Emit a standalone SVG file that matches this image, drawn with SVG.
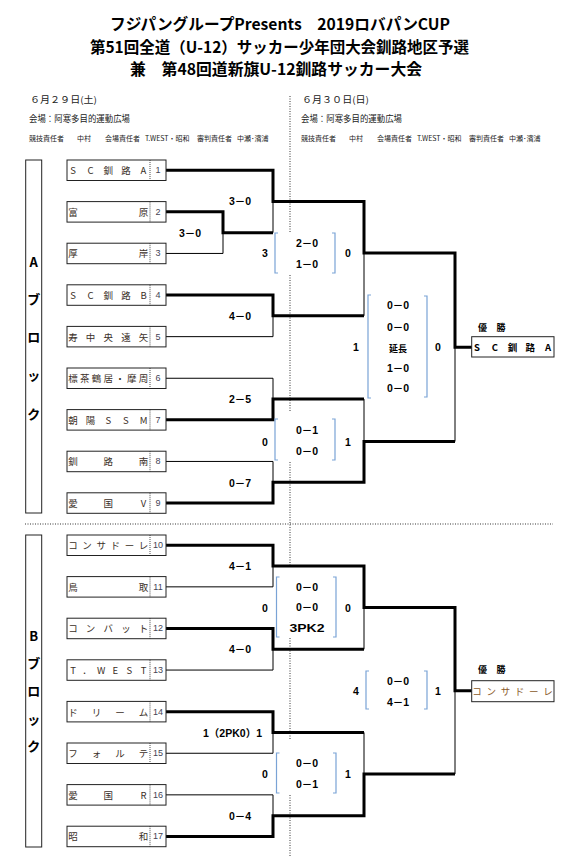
<svg xmlns="http://www.w3.org/2000/svg" width="574" height="862" viewBox="0 0 574 862">
<style>
text{font-family:"Noto Sans CJK JP","Liberation Sans",sans-serif}
.hd{font-size:15.5px;font-weight:bold;fill:#000;dominant-baseline:central}
.sub{font-size:9px;fill:#222;dominant-baseline:central}
.off{font-size:7px;fill:#222;dominant-baseline:central}
.nm{font-size:9.5px;fill:#3b3028;text-anchor:middle;dominant-baseline:central}
.no{font-family:"Liberation Sans",sans-serif;font-size:9px;fill:#445;text-anchor:middle;dominant-baseline:central}
.sc{font-family:"Liberation Sans","Noto Sans CJK JP",sans-serif;font-size:10.5px;font-weight:bold;fill:#000;text-anchor:middle;dominant-baseline:central}
.jp{font-size:9px;font-weight:bold;fill:#000;text-anchor:middle;dominant-baseline:central}
.blk{font-size:13px;font-weight:bold;fill:#000;text-anchor:middle;dominant-baseline:central}
.box{fill:#fff;stroke:#222;stroke-width:1}
.div{stroke:#222;stroke-width:0.8;stroke-dasharray:1 1}
.thick{fill:none;stroke:#000;stroke-width:3}
.thin{fill:none;stroke:#000;stroke-width:1}
.br{fill:none;stroke:#7aa3d6;stroke-width:1.2}
.dot{fill:none;stroke:#000;stroke-width:0.8;stroke-dasharray:1 1.5}
</style>

<g id="header">
<text class="hd" x="110" y="22.5" textLength="340" lengthAdjust="spacingAndGlyphs">フジパングループPresents　2019ロバパンCUP</text>
<text class="hd" x="90" y="45.5" textLength="379" lengthAdjust="spacingAndGlyphs">第51回全道（U-12）サッカー少年団大会釧路地区予選</text>
<text class="hd" x="130" y="68" textLength="292" lengthAdjust="spacingAndGlyphs">兼　第48回道新旗U-12釧路サッカー大会</text>
<text class="sub" x="30" y="99" textLength="67" lengthAdjust="spacingAndGlyphs">６月２９日(土)</text>
<text class="sub" x="29" y="118" textLength="101" lengthAdjust="spacingAndGlyphs">会場：阿寒多目的運動広場</text>
<text class="off" y="138"><tspan x="29">競技責任者</tspan><tspan x="77">中村</tspan><tspan x="105">会場責任者</tspan><tspan x="145">T.WEST・昭和</tspan><tspan x="197">審判責任者</tspan><tspan x="237">中瀬･濱浦</tspan></text>
<text class="sub" x="302" y="99" textLength="67" lengthAdjust="spacingAndGlyphs">６月３０日(日)</text>
<text class="sub" x="301" y="118" textLength="101" lengthAdjust="spacingAndGlyphs">会場：阿寒多目的運動広場</text>
<text class="off" y="138"><tspan x="301">競技責任者</tspan><tspan x="349">中村</tspan><tspan x="377">会場責任者</tspan><tspan x="417">T.WEST・昭和</tspan><tspan x="469">審判責任者</tspan><tspan x="509">中瀬･濱浦</tspan></text>
</g>

<g id="separators">
<path class="dot" d="M290,96V233M290,275V412M290,462V567M290,638V740M290,795V857"/>
<path class="dot" d="M25,524H553"/>
</g>

<g id="block-A">
<rect class="box" x="25.7" y="160" width="16" height="353"/>
<text class="blk" x="33.7" y="261">A</text>
<text class="blk" x="33.7" y="298">ブ</text>
<text class="blk" x="33.7" y="336">ロ</text>
<text class="blk" x="33.7" y="374">ッ</text>
<text class="blk" x="33.7" y="413">ク</text>
</g>
<g id="block-B">
<rect class="box" x="25.7" y="535" width="16" height="312"/>
<text class="blk" x="33.7" y="635">B</text>
<text class="blk" x="33.7" y="662">ブ</text>
<text class="blk" x="33.7" y="690">ロ</text>
<text class="blk" x="33.7" y="718">ッ</text>
<text class="blk" x="33.7" y="745">ク</text>
</g>

<g id="connectors">
<path class="thick" d="M166,170.25H273V201.45H364V253H455V347.25H472"/>
<path class="thin" d="M273,201.45V232.65"/>
<path class="thick" d="M166,211.85H223V232.65H273"/>
<path class="thin" d="M166,253.45H223V232.65"/>
<path class="thick" d="M166,295H273V315.8H364"/>
<path class="thin" d="M364,253V315.8"/>
<path class="thin" d="M166,336.65H273V315.8"/>
<path class="thin" d="M166,378.25H273V399.05"/>
<path class="thick" d="M166,419.85H273V399.05H364"/>
<path class="thin" d="M364,399.05V441.5"/>
<path class="thin" d="M166,461.45H273V482.25"/>
<path class="thick" d="M166,503.05H273V482.25H364V441.5H455"/>
<path class="thin" d="M455,347.25V441.5"/>

<path class="thick" d="M166,545.25H273V566.05H364V607.6H455V690.8H472"/>
<path class="thin" d="M166,586.85H273V566.05"/>
<path class="thick" d="M166,628.45H273V649.25H364"/>
<path class="thin" d="M364,607.6V649.25"/>
<path class="thin" d="M166,670.05H273V649.25"/>
<path class="thick" d="M166,711.65H273V732.45H364"/>
<path class="thin" d="M364,732.45V774.05"/>
<path class="thin" d="M166,753.25H273V732.45"/>
<path class="thin" d="M166,794.85H273V815.65"/>
<path class="thick" d="M166,836.45H273V815.65H364V774.05H455"/>
<path class="thin" d="M455,690.8V774.05"/>

<path class="br" d="M278,233H275V273H278M332,233H335V273H332"/>
<path class="br" d="M278,419H275V460H278M332,419H335V460H332"/>
<path class="br" d="M279.5,577H276.5V637H279.5M333,577H336V637H333"/>
<path class="br" d="M279.5,753H276.5V793H279.5M333,753H336V793H333"/>
<path class="br" d="M371,295H368V398H371M424,296H427V397H424"/>
<path class="br" d="M369,671H366V709H369M424,671H427V709H424"/>
</g>

<g id="team-1"><rect class="box" x="67" y="160" width="99" height="20.5"/><line class="div" x1="150" y1="160" x2="150" y2="180.5"/><text class="nm" x="73 90.6 108.25 125.9 143.5" y="170.25">SC釧路A</text><text class="no" x="158" y="170.25">1</text></g>
<g id="team-2"><rect class="box" x="67" y="201.6" width="99" height="20.5"/><line class="div" x1="150" y1="201.6" x2="150" y2="222.1"/><text class="nm" x="73 143.5" y="211.85">富原</text><text class="no" x="158" y="211.85">2</text></g>
<g id="team-3"><rect class="box" x="67" y="243.2" width="99" height="20.5"/><line class="div" x1="150" y1="243.2" x2="150" y2="263.7"/><text class="nm" x="73 143.5" y="253.45">厚岸</text><text class="no" x="158" y="253.45">3</text></g>
<g id="team-4"><rect class="box" x="67" y="284.8" width="99" height="20.5"/><line class="div" x1="150" y1="284.8" x2="150" y2="305.3"/><text class="nm" x="73 90.6 108.25 125.9 143.5" y="295">SC釧路B</text><text class="no" x="158" y="295">4</text></g>
<g id="team-5"><rect class="box" x="67" y="326.4" width="99" height="20.5"/><line class="div" x1="150" y1="326.4" x2="150" y2="346.9"/><text class="nm" x="73 90.6 108.25 125.9 143.5" y="336.65">寿中央遠矢</text><text class="no" x="158" y="336.65">5</text></g>
<g id="team-6"><rect class="box" x="67" y="368" width="99" height="20.5"/><line class="div" x1="150" y1="368" x2="150" y2="388.5"/><text class="nm" x="73 84.75 96.5 108.25 120 131.75 143.5" y="378.25">標茶鶴居・摩周</text><text class="no" x="158" y="378.25">6</text></g>
<g id="team-7"><rect class="box" x="67" y="409.6" width="99" height="20.5"/><line class="div" x1="150" y1="409.6" x2="150" y2="430.1"/><text class="nm" x="73 90.6 108.25 125.9 143.5" y="419.85">朝陽SSM</text><text class="no" x="158" y="419.85">7</text></g>
<g id="team-8"><rect class="box" x="67" y="451.2" width="99" height="20.5"/><line class="div" x1="150" y1="451.2" x2="150" y2="471.7"/><text class="nm" x="73 108.25 143.5" y="461.45">釧路南</text><text class="no" x="158" y="461.45">8</text></g>
<g id="team-9"><rect class="box" x="67" y="492.8" width="99" height="20.5"/><line class="div" x1="150" y1="492.8" x2="150" y2="513.3"/><text class="nm" x="73 108.25 143.5" y="503.05">愛国V</text><text class="no" x="158" y="503.05">9</text></g>
<g id="team-10"><rect class="box" x="67" y="535" width="99" height="20.5"/><line class="div" x1="150" y1="535" x2="150" y2="555.5"/><text class="nm" x="73 87.1 101.2 115.3 129.4 143.5" y="545.25">コンサドーレ</text><text class="no" x="158" y="545.25">10</text></g>
<g id="team-11"><rect class="box" x="67" y="576.6" width="99" height="20.5"/><line class="div" x1="150" y1="576.6" x2="150" y2="597.1"/><text class="nm" x="73 143.5" y="586.85">鳥取</text><text class="no" x="158" y="586.85">11</text></g>
<g id="team-12"><rect class="box" x="67" y="618.2" width="99" height="20.5"/><line class="div" x1="150" y1="618.2" x2="150" y2="638.7"/><text class="nm" x="73 90.6 108.25 125.9 143.5" y="628.45">コンバット</text><text class="no" x="158" y="628.45">12</text></g>
<g id="team-13"><rect class="box" x="67" y="659.8" width="99" height="20.5"/><line class="div" x1="150" y1="659.8" x2="150" y2="680.3"/><text class="nm" x="73 87.1 101.2 115.3 129.4 143.5" y="670.05">T．WEST</text><text class="no" x="158" y="670.05">13</text></g>
<g id="team-14"><rect class="box" x="67" y="701.4" width="99" height="20.5"/><line class="div" x1="150" y1="701.4" x2="150" y2="721.9"/><text class="nm" x="73 96.5 120 143.5" y="711.65">ドリーム</text><text class="no" x="158" y="711.65">14</text></g>
<g id="team-15"><rect class="box" x="67" y="743" width="99" height="20.5"/><line class="div" x1="150" y1="743" x2="150" y2="763.5"/><text class="nm" x="73 96.5 120 143.5" y="753.25">フォルテ</text><text class="no" x="158" y="753.25">15</text></g>
<g id="team-16"><rect class="box" x="67" y="784.6" width="99" height="20.5"/><line class="div" x1="150" y1="784.6" x2="150" y2="805.1"/><text class="nm" x="73 108.25 143.5" y="794.85">愛国R</text><text class="no" x="158" y="794.85">16</text></g>
<g id="team-17"><rect class="box" x="67" y="826.2" width="99" height="20.5"/><line class="div" x1="150" y1="826.2" x2="150" y2="846.7"/><text class="nm" x="73 143.5" y="836.45">昭和</text><text class="no" x="158" y="836.45">17</text></g>

<g id="scores">
<text class="sc" x="190" y="232.5">3－0</text>
<text class="sc" x="240" y="201.3">3－0</text>
<text class="sc" x="240" y="316">4－0</text>
<text class="sc" x="240" y="399.3">2－5</text>
<text class="sc" x="240" y="482.5">0－7</text>
<text class="sc" x="240" y="565.8">4－1</text>
<text class="sc" x="240" y="649.4">4－0</text>
<text class="sc" x="232.5" y="732.5" textLength="59" lengthAdjust="spacingAndGlyphs">1（2PK0）1</text>
<text class="sc" x="240" y="816">0－4</text>

<text class="sc" x="265" y="253">3</text>
<text class="sc" x="307" y="243.3">2－0</text>
<text class="sc" x="307" y="264">1－0</text>
<text class="sc" x="348" y="253">0</text>

<text class="sc" x="265" y="441.5">0</text>
<text class="sc" x="307" y="430">0－1</text>
<text class="sc" x="307" y="451">0－0</text>
<text class="sc" x="348" y="441.5">1</text>

<text class="sc" x="265" y="607.5">0</text>
<text class="sc" x="307" y="586.7">0－0</text>
<text class="sc" x="307" y="607.3">0－0</text>
<text class="sc" x="307" y="628" textLength="35" lengthAdjust="spacingAndGlyphs">3PK2</text>
<text class="sc" x="348" y="607.5">0</text>

<text class="sc" x="265" y="774">0</text>
<text class="sc" x="307" y="763">0－0</text>
<text class="sc" x="307" y="784">0－1</text>
<text class="sc" x="348" y="774">1</text>

<text class="sc" x="356" y="347">1</text>
<text class="sc" x="398" y="305">0－0</text>
<text class="sc" x="398" y="327">0－0</text>
<text class="jp" x="398" y="348">延長</text>
<text class="sc" x="398" y="368">1－0</text>
<text class="sc" x="398" y="388">0－0</text>
<text class="sc" x="438" y="347">0</text>

<text class="sc" x="356" y="691">4</text>
<text class="sc" x="398" y="680.7">0－0</text>
<text class="sc" x="398" y="701.5">4－1</text>
<text class="sc" x="438" y="691">1</text>
</g>

<g id="champion-A">
<text class="jp" x="482.5" y="327">優</text><text class="jp" x="501" y="327">勝</text>
<rect class="box" x="471.7" y="336.7" width="82.3" height="20.3"/>
<text class="nm" style="font-weight:bold;fill:#000" x="477 494.75 512.5 530.25 548" y="347">SC釧路A</text>
</g>
<g id="champion-B">
<text class="jp" x="482.5" y="669">優</text><text class="jp" x="501" y="669">勝</text>
<rect class="box" x="471.7" y="680.7" width="82.3" height="21"/>
<text class="nm" style="fill:#8a5a2a" x="477 491.2 505.4 519.6 533.8 548" y="691.2">コンサドーレ</text>
</g>
</svg>
